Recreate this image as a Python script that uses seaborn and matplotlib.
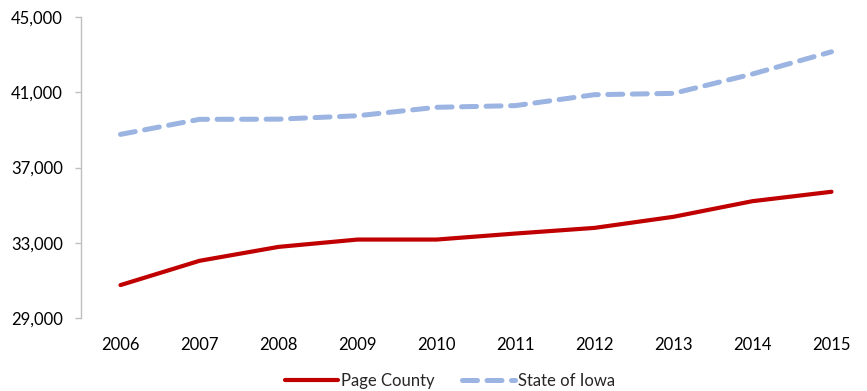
import pandas as pd
import matplotlib.pyplot as plt
import seaborn as sns

years = [2006, 2007, 2008, 2009, 2010, 2011, 2012, 2013, 2014, 2015]
page_county = [30750, 32040, 32780, 33170, 33170, 33490, 33790, 34380, 35210, 35710]
state_of_iowa = [38760, 39560, 39570, 39750, 40200, 40290, 40870, 40940, 41970, 43150]
series_names = ["Page County", "State of Iowa"]
y_ticks = [29000, 33000, 37000, 41000, 45000]


def build_frame():
    df = pd.DataFrame({"Year": years, series_names[0]: page_county, series_names[1]: state_of_iowa})
    return df.melt(id_vars="Year", var_name="Series", value_name="Income")


def plot_chart(df):
    sns.set_style("white")
    plt.rcParams['font.family'] = ['Lato', 'DejaVu Sans']
    fig = plt.figure(figsize=(8.67, 3.91), dpi=100)
    ax = fig.add_axes([81 / 867, 73 / 391, (867 - 81) / 867, 301 / 391])

    sns.lineplot(data=df, x="Year", y="Income", hue="Series", style="Series",
                 palette={"Page County": "#C00000", "State of Iowa": "#9BB4E2"},
                 dashes={"Page County": "", "State of Iowa": (3, 1.9)},
                 ax=ax, legend=False)
    ax.lines[0].set_linewidth(3.0)
    ax.lines[1].set_linewidth(3.6)
    ax.lines[1].set_dash_capstyle('round')
    ax.lines[0].set_solid_capstyle('round')

    ax.set_xlim(2005.5, 2005.5 + (867 - 81) / 79)
    ax.set_ylim(29000, 45000)
    ax.set_xticks(years)
    ax.set_yticks(y_ticks)
    ax.set_yticklabels([f"{v:,}" for v in y_ticks])
    ax.set_xlabel("")
    ax.set_ylabel("")
    ax.tick_params(axis='x', length=0, pad=14, labelsize=12, colors='black')
    ax.tick_params(axis='y', length=4, width=1, color='#BFBFBF', pad=9, labelsize=12,
                   left=True, labelcolor='black')
    for side in ['top', 'right', 'bottom']:
        ax.spines[side].set_visible(False)
    ax.spines['left'].set_color('#BFBFBF')
    ax.spines['left'].set_linewidth(1)

    handles = [plt.Line2D([], [], color="#C00000", lw=3.0),
               plt.Line2D([], [], color="#9BB4E2", lw=3.6, ls=(0, (3, 1.9)), dash_capstyle='round')]
    fig.legend(handles, series_names, loc='center', bbox_to_anchor=(450 / 867, 1 - 381 / 391),
               ncol=2, frameon=False, fontsize=12, handlelength=3.2, columnspacing=1.6,
               handletextpad=0.2)
    return fig


if __name__ == "__main__":
    fig = plot_chart(build_frame())
    fig.savefig("out.png", dpi=100)
